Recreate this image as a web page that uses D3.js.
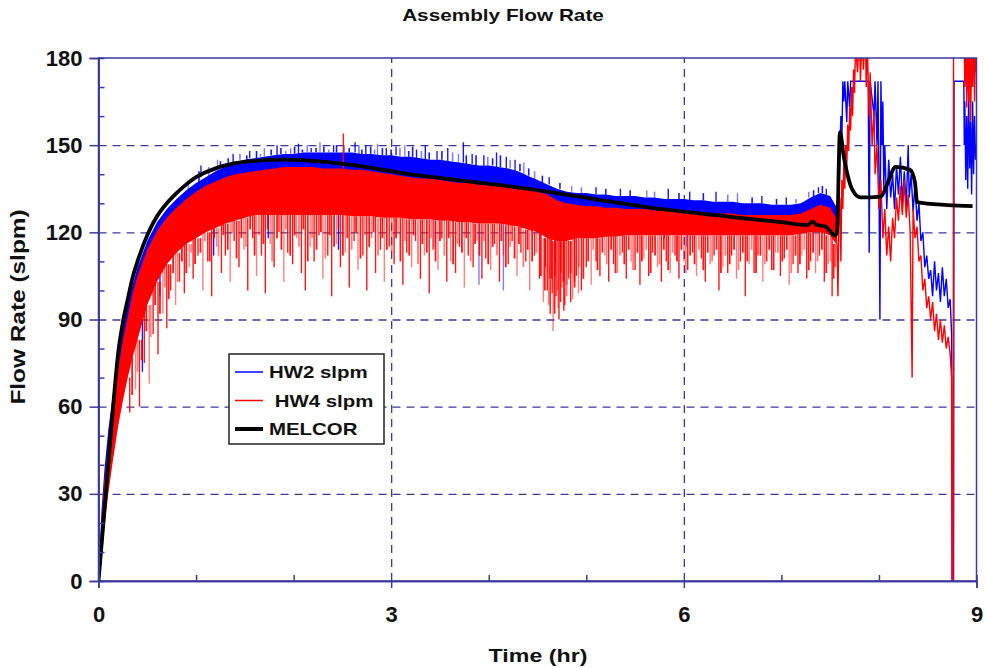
<!DOCTYPE html>
<html>
<head>
<meta charset="utf-8">
<script src="https://cdn.jsdelivr.net/npm/d3@7"></script>
<style>
  body { margin: 0; background: #fff; }
  text { font-family: "Liberation Sans", Arial, sans-serif; font-weight: bold; fill: #111; }
</style>
</head>
<body>
<div id="chart"></div>
<script>
// ---- data ----
// dense band of each test series (time in hr, slpm)
var bandT = [0, 0.03, 0.06, 0.1, 0.15, 0.2, 0.25, 0.3, 0.35, 0.4, 0.5, 0.6, 0.7, 0.8, 0.9, 1.0, 1.1, 1.2, 1.3, 1.4,
  1.5, 1.6, 1.7, 1.8, 1.9, 2.0, 2.1, 2.2, 2.3, 2.4, 2.5, 2.6, 2.7, 2.8, 2.9, 3.0, 3.1, 3.2, 3.3, 3.4,
  3.5, 3.6, 3.7, 3.8, 3.9, 4.0, 4.1, 4.2, 4.3, 4.4, 4.5, 4.6, 4.7, 4.8, 4.9, 5.0, 5.1, 5.2, 5.3, 5.4,
  5.5, 5.6, 5.7, 5.8, 5.9, 6.0, 6.1, 6.2, 6.3, 6.4, 6.5, 6.6, 6.7, 6.8, 6.9, 7.0, 7.1, 7.2, 7.3, 7.4, 7.5, 7.56];
var hw2Hi = [2, 24, 38, 52, 65, 77, 87, 95, 102, 108, 117, 123.5, 128, 131.5, 134.5, 137, 139, 141, 142.5, 144,
  145, 145.5, 146, 146.5, 147, 147, 147.5, 147.5, 147.5, 147.5, 147.5, 147.5, 147, 147, 146.5, 146.5, 146, 146, 145.5, 145,
  145, 144.5, 144, 143.5, 143, 143, 142.5, 142, 141, 139.5, 138, 136.5, 135, 134, 133.5, 133.5, 133, 133, 132.5, 132.5,
  132.5, 132, 132, 131.5, 131.5, 131.5, 131, 131, 130.5, 130.5, 130.5, 130, 130, 130, 129.5, 129.5, 129.5, 130, 132, 133.5, 132.5, 129];
var hw2Lo = [0, 12, 28, 40, 52, 64, 74, 82, 88, 94, 104, 112, 118, 122, 125, 128, 130, 132, 133, 134,
  135, 136, 136, 137, 137, 137, 137, 137, 137, 137, 136.5, 136.5, 136, 136, 135.5, 135, 134.5, 134, 134, 133.5,
  133, 133, 132.5, 132, 132, 131.5, 131, 131, 130.5, 130, 129.5, 129, 128.5, 128, 127.5, 127.5, 127, 127, 126.5, 126.5,
  126.5, 126, 126, 126, 125.5, 125.5, 125.5, 125, 125, 125, 125, 124.5, 124.5, 124.5, 124, 124, 124, 124.5, 125, 126, 125, 122];
var hw4Hi = [0, 19, 34, 47, 60, 72, 83, 91, 99, 105, 114, 120.5, 125, 128.5, 131.5, 134, 136, 137.5, 139, 140,
  140.5, 141, 141.5, 142, 142.5, 142.5, 142.5, 142.5, 142, 142, 142, 141.5, 141.5, 141, 140.5, 140, 139.5, 139, 138.5, 138.5,
  138, 137.5, 137, 137, 136.5, 136, 136, 135.5, 135, 134.5, 134, 133, 131, 130, 129.5, 129, 129, 128.5, 128.5, 128,
  128, 128, 127.5, 127.5, 127.5, 127, 127, 127, 126.5, 126.5, 126.5, 126, 126, 126, 126, 126, 126, 126.5, 128, 129.5, 128.5, 125];
var hw4Lo = [0, 6, 18, 30, 42, 53, 62, 70, 77, 83, 95, 103, 109, 113, 116, 118, 120, 121.5, 123, 124,
  125, 126, 126, 126, 126, 126, 126, 126, 126, 126, 126, 125.5, 125.5, 125.5, 125, 125, 125, 124.5, 124.5, 124.5,
  124, 124, 123.5, 123.5, 123, 123, 123, 122.5, 122, 121, 120, 118, 117, 117, 118, 118, 118, 118.5, 118.5, 119,
  119, 119, 119, 119, 119, 119, 119, 119, 119, 119, 119, 119, 119, 119, 119, 119, 119, 119.5, 120, 120, 119, 116];

// single excursions out of the band: [time, value]
var hw4Spikes = [[0.32, 58], [0.38, 66], [0.42, 60], [0.47, 75], [0.52, 68], [0.56, 85], [0.61, 78], [0.66, 92],
  [0.7, 87], [0.74, 100], [0.79, 95], [0.83, 103], [0.88, 99], [0.93, 108], [0.97, 104], [1.02, 112], [1.07, 100],
  [1.12, 110], [1.16, 98], [1.21, 115], [1.26, 106], [1.3, 112], [1.35, 103], [1.39, 117], [1.44, 108], [1.49, 114],
  [1.53, 100], [1.58, 118], [1.62, 105], [1.67, 112], [1.71, 99], [1.76, 116], [1.8, 108], [1.85, 120], [1.9, 103],
  [1.94, 113], [1.99, 109], [2.03, 118], [2.08, 106], [2.12, 100], [2.17, 115], [2.21, 110], [2.26, 119], [2.3, 104],
  [2.35, 112], [2.39, 98], [2.44, 116], [2.48, 108], [2.51, 154], [2.53, 113], [2.57, 101], [2.62, 117], [2.66, 107],
  [2.71, 112], [2.75, 100], [2.8, 118], [2.84, 106], [2.89, 114], [2.93, 103], [2.98, 115], [3.03, 109], [3.07, 120],
  [3.12, 102], [3.16, 113], [3.21, 108], [3.25, 117], [3.3, 104], [3.34, 112], [3.39, 99], [3.43, 114], [3.48, 107],
  [3.52, 118], [3.57, 103], [3.61, 110], [3.66, 106], [3.7, 115], [3.75, 101], [3.79, 112], [3.84, 108], [3.88, 117],
  [3.93, 104], [3.97, 111], [4.02, 107], [4.06, 116], [4.11, 103], [4.15, 112], [4.2, 109], [4.24, 117], [4.29, 105],
  [4.33, 113], [4.38, 110], [4.42, 100], [4.47, 112], [4.52, 104], [4.56, 96], [4.58, 108], [4.6, 100], [4.62, 104],
  [4.63, 92], [4.65, 99], [4.66, 86], [4.68, 105], [4.69, 98], [4.71, 94], [4.72, 90], [4.74, 106], [4.75, 101],
  [4.77, 93], [4.78, 95], [4.8, 102], [4.82, 104], [4.84, 96], [4.86, 97], [4.88, 103], [4.9, 105], [4.92, 99],
  [4.95, 100], [5.0, 108],
  [5.05, 102], [5.1, 110], [5.14, 105], [5.19, 112], [5.23, 103], [5.28, 109], [5.32, 106], [5.37, 113], [5.41, 104],
  [5.46, 110], [5.5, 107], [5.55, 102], [5.59, 111], [5.64, 105], [5.68, 113], [5.73, 108], [5.77, 103], [5.82, 110],
  [5.86, 106], [5.91, 112], [5.95, 104], [6.0, 110], [6.04, 107], [6.09, 113], [6.13, 105], [6.18, 111], [6.22, 103],
  [6.27, 109], [6.31, 112], [6.36, 100], [6.4, 108], [6.45, 106], [6.49, 112], [6.54, 104], [6.58, 110], [6.63, 98],
  [6.67, 109], [6.72, 106], [6.76, 112], [6.81, 103], [6.85, 110], [6.9, 107], [6.94, 113], [6.99, 105], [7.03, 111],
  [7.08, 102], [7.12, 109], [7.17, 106], [7.21, 112], [7.26, 104], [7.3, 110], [7.35, 106], [7.39, 112], [7.44, 103],
  [7.48, 109], [7.52, 98], [7.55, 108]];
// shorter, denser excursions that roughen the lower edge
var hw4Fine = [[0.345, 64], [0.4, 72], [0.445, 76], [0.49, 86], [0.535, 84], [0.58, 95], [0.63, 92], [0.68, 101],
  [0.72, 97], [0.765, 106], [0.81, 103], [0.855, 110], [0.9, 106], [0.95, 113], [0.99, 109],
  [1.045, 113], [1.09, 117], [1.14, 110], [1.185, 118], [1.23, 112], [1.28, 119], [1.325, 114], [1.37, 120],
  [1.415, 111], [1.465, 118], [1.51, 115], [1.555, 121], [1.6, 112], [1.645, 119], [1.69, 116], [1.735, 121],
  [1.78, 110], [1.83, 118], [1.875, 114], [1.92, 121], [1.965, 112], [2.01, 119], [2.055, 115], [2.1, 121],
  [2.145, 110], [2.19, 118], [2.235, 114], [2.28, 120], [2.325, 111], [2.37, 119], [2.415, 115], [2.46, 121],
  [2.505, 112], [2.55, 118], [2.595, 114], [2.64, 120], [2.685, 111], [2.73, 119], [2.775, 115], [2.82, 120],
  [2.865, 112], [2.91, 118], [2.955, 114], [3.005, 113], [3.05, 118], [3.095, 110], [3.14, 117], [3.185, 112],
  [3.23, 119], [3.275, 109], [3.32, 116], [3.365, 113], [3.41, 118], [3.455, 110], [3.5, 117], [3.545, 112],
  [3.59, 118], [3.635, 109], [3.68, 116], [3.725, 113], [3.77, 118], [3.815, 110], [3.86, 116], [3.905, 112],
  [3.95, 117], [3.995, 109], [4.04, 115], [4.085, 112], [4.13, 117], [4.175, 108], [4.22, 115], [4.265, 111],
  [4.31, 116], [4.355, 108], [4.4, 114], [4.445, 110], [4.49, 113], [4.535, 105], [4.575, 100], [4.615, 95],
  [4.645, 104], [4.675, 92], [4.705, 100], [4.735, 96], [4.765, 103], [4.8, 98], [4.84, 106], [4.88, 101],
  [4.925, 108], [4.97, 104], [5.02, 110], [5.07, 114], [5.115, 107], [5.165, 113], [5.21, 109], [5.255, 114],
  [5.3, 106], [5.345, 112], [5.39, 109], [5.435, 114], [5.48, 107], [5.525, 113], [5.57, 110], [5.615, 114],
  [5.66, 106], [5.705, 112], [5.75, 109], [5.795, 114], [5.84, 107], [5.885, 113], [5.93, 110], [5.975, 114],
  [6.02, 106], [6.065, 112], [6.11, 109], [6.155, 114], [6.2, 107], [6.245, 113], [6.29, 110], [6.335, 114],
  [6.38, 106], [6.425, 112], [6.47, 109], [6.515, 114], [6.56, 107], [6.605, 113], [6.65, 110], [6.695, 114],
  [6.74, 106], [6.785, 112], [6.83, 109], [6.875, 114], [6.92, 107], [6.965, 113], [7.01, 110], [7.055, 114],
  [7.1, 106], [7.145, 112], [7.19, 109], [7.235, 114], [7.28, 107], [7.325, 113], [7.37, 110], [7.415, 114],
  [7.46, 106], [7.505, 110], [7.535, 104]];
var hw2Spikes = [[0.45, 72], [0.55, 124], [0.63, 98], [0.75, 132], [0.92, 138], [1.05, 143], [1.18, 112], [1.22, 145],
  [1.38, 147], [1.55, 148], [1.7, 149], [1.74, 118], [1.83, 150], [1.97, 149], [2.05, 150.5], [2.18, 149], [2.27, 151],
  [2.41, 150], [2.46, 114], [2.52, 149.5], [2.63, 151], [2.74, 150], [2.86, 150.5], [2.95, 149], [3.05, 149.5],
  [3.14, 150], [3.26, 148.5], [3.35, 150], [3.45, 115], [3.47, 148], [3.58, 149], [3.69, 147], [3.74, 151], [3.83, 147],
  [3.9, 102], [3.95, 146.5], [4.08, 147.5], [4.15, 100], [4.18, 146], [4.27, 145], [4.36, 144], [4.62, 139], [4.68, 110],
  [4.85, 136], [5.1, 135.5], [5.35, 135], [5.62, 134.5], [5.8, 118], [5.84, 135], [6.03, 115], [6.06, 134], [6.33, 134],
  [6.55, 133.5], [6.8, 132.5], [7.05, 132], [7.28, 134], [7.38, 135.5], [7.46, 135]];
var hw2Fine = [[1.03, 141], [1.13, 142.5], [1.25, 144.5], [1.33, 145.5], [1.45, 147], [1.52, 146.5], [1.62, 148],
  [1.66, 147], [1.77, 148.5], [1.87, 149], [1.92, 148], [2.01, 149.5], [2.09, 148.5], [2.14, 150], [2.23, 149],
  [2.31, 149.5], [2.36, 148.5], [2.44, 150], [2.57, 149], [2.67, 150], [2.7, 148.5], [2.79, 149.5], [2.83, 148.5],
  [2.91, 149], [3.0, 148.5], [3.09, 149], [3.18, 148], [3.22, 149.5], [3.31, 148], [3.39, 147.5], [3.52, 148],
  [3.63, 147.5], [3.77, 146.5], [3.87, 146.5], [3.99, 146], [4.04, 145.5], [4.12, 146.5], [4.22, 145], [4.32, 143.5],
  [4.41, 142], [4.47, 141], [4.55, 139.5], [4.73, 137], [4.95, 135.5], [5.2, 135], [5.45, 134.5], [5.7, 134],
  [5.95, 133.5], [6.2, 133.5], [6.45, 133], [6.7, 132], [6.95, 131.5], [7.15, 131.5], [7.33, 134.5], [7.42, 136]];

// late transient, drawn as a plain trace: [time, value]
var hw2Late = [[7.56, 129], [7.58, 121], [7.6, 148], [7.61, 160], [7.62, 152], [7.63, 172], [7.64, 165], [7.65, 172],
  [7.67, 158], [7.68, 172], [7.7, 163], [7.71, 172], [7.89, 172], [7.9, 113], [7.91, 172], [7.95, 160], [7.96, 172],
  [7.98, 150], [7.99, 172], [8.0, 140], [8.01, 90], [8.02, 172], [8.03, 150], [8.04, 165], [8.05, 135], [8.06, 150],
  [8.08, 128], [8.1, 145], [8.12, 132], [8.14, 140], [8.16, 128], [8.18, 143], [8.2, 133], [8.22, 146], [8.24, 130],
  [8.26, 141], [8.28, 129], [8.3, 150], [8.31, 132], [8.33, 140], [8.35, 127], [8.37, 137], [8.39, 124], [8.41, 130],
  [8.43, 117], [8.45, 120], [8.47, 108], [8.49, 112], [8.51, 104], [8.53, 107], [8.55, 98], [8.57, 110], [8.59, 100],
  [8.61, 106], [8.63, 96], [8.65, 108], [8.67, 98], [8.69, 104], [8.71, 94], [8.73, 97], [8.745, 85], [8.75, 0],
  [8.765, 0], [8.77, 172], [8.87, 172], [8.875, 150], [8.88, 165], [8.89, 138], [8.9, 160], [8.91, 135], [8.92, 168],
  [8.93, 142], [8.94, 158], [8.95, 133], [8.96, 165], [8.97, 140], [8.98, 160], [8.99, 145], [9.0, 150]];
var hw4Late = [[7.55, 125], [7.57, 116], [7.58, 98], [7.59, 125], [7.6, 132], [7.61, 110], [7.62, 138], [7.63, 128],
  [7.64, 145], [7.65, 135], [7.66, 150], [7.67, 142], [7.68, 157], [7.69, 148], [7.7, 163], [7.71, 155], [7.72, 170],
  [7.73, 160], [7.74, 176], [7.75, 168], [7.76, 185], [7.78, 175], [7.8, 188], [7.81, 172], [7.83, 190], [7.84, 176],
  [7.86, 188], [7.87, 170], [7.88, 185], [7.9, 160], [7.91, 175], [7.93, 150], [7.95, 162], [7.96, 140], [7.98, 150],
  [8.0, 128], [8.02, 138], [8.04, 118], [8.06, 128], [8.08, 112], [8.1, 122], [8.12, 110], [8.14, 125], [8.16, 118],
  [8.18, 132], [8.2, 124], [8.22, 136], [8.24, 126], [8.26, 138], [8.28, 125], [8.3, 133], [8.32, 120], [8.34, 70],
  [8.35, 128], [8.37, 118], [8.39, 122], [8.41, 110], [8.43, 112], [8.45, 100], [8.47, 104], [8.49, 94], [8.51, 98],
  [8.53, 90], [8.55, 96], [8.57, 86], [8.59, 92], [8.61, 83], [8.63, 90], [8.65, 82], [8.67, 88], [8.69, 80],
  [8.71, 84], [8.73, 78], [8.745, 70], [8.75, 0], [8.755, 44], [8.76, 0], [8.765, 200], [8.87, 200], [8.88, 170],
  [8.89, 188], [8.9, 163], [8.91, 185], [8.92, 165], [8.93, 190], [8.94, 158], [8.95, 182], [8.96, 170], [8.97, 190],
  [8.98, 165], [8.99, 185], [9.0, 175]];

// MELCOR calculation
var melcorT = [0, 0.05, 0.1, 0.15, 0.2, 0.25, 0.3, 0.35, 0.4, 0.5, 0.6, 0.7, 0.8, 0.9, 1.0, 1.2, 1.4, 1.6, 1.9,
  2.2, 2.6, 3.1, 3.6, 4.1, 4.6, 5.1, 5.6, 6.0, 6.6, 7.0, 7.27, 7.32, 7.36, 7.45, 7.55, 7.57, 7.6, 7.64, 7.73,
  7.81, 8.02, 8.09, 8.17, 8.32, 8.37, 8.39, 8.7, 8.96];
var melcorV = [0, 20, 40, 60, 78, 89, 97, 104.5, 110, 119, 125.5, 130, 133.5, 136.5, 139, 142, 143.8, 144.6, 145,
  144.6, 143.2, 140.5, 138.3, 136.3, 134, 131.3, 128.8, 127.1, 124.9, 123.5, 122.5, 123.7, 122.6, 122, 119, 120, 154.5, 146, 134.5,
  132, 132.3, 137, 142.5, 141.5, 137, 130.4, 129.4, 129];

var xTicks = [0, 3, 6, 9];
var xMinor = [1, 2, 4, 5, 7, 8];
var yTicks = [0, 30, 60, 90, 120, 150, 180];
var yMinor = [10, 20, 40, 50, 70, 80, 100, 110, 130, 140, 160, 170];
var legendLabels = ["HW2 slpm", " HW4 slpm", "MELCOR"];
var legendColors = ["#0000ff", "#ff0000", "#000000"];

// ---- layout ----
var svgWidth = 985;
var svgHeight = 668;
var margin = { top: 58, right: 8.5, bottom: 87, left: 98.5 };
var width = svgWidth - margin.left - margin.right;
var height = svgHeight - margin.top - margin.bottom;
var axisColor = "#3a3a9c";

var svg = d3.select("#chart").append("svg")
  .attr("width", svgWidth)
  .attr("height", svgHeight);

// stretch text a bit wider, like the source export
function widen(sel, k) {
  sel.each(function() {
    var w = this.getComputedTextLength();
    d3.select(this).attr("textLength", w * k).attr("lengthAdjust", "spacingAndGlyphs");
  });
}

svg.append("defs").append("clipPath").attr("id", "plotClip")
  .append("rect").attr("width", width).attr("height", height);

var chartGroup = svg.append("g")
  .attr("transform", `translate(${margin.left}, ${margin.top})`);

var x = d3.scaleLinear().domain([0, 9]).range([0, width]);
var y = d3.scaleLinear().domain([0, 180]).range([height, 0]);

// grid
chartGroup.append("g")
  .attr("class", "grid")
  .call(d3.axisLeft(y).tickValues(yTicks.filter(d => d > 0 && d < 180)).tickSize(-width).tickFormat(""));
chartGroup.append("g")
  .attr("class", "grid")
  .attr("transform", `translate(0, ${height})`)
  .call(d3.axisBottom(x).tickValues(xTicks.filter(d => d > 0 && d < 9)).tickSize(-height).tickFormat(""));
chartGroup.selectAll(".grid .domain").remove();
chartGroup.selectAll(".grid line")
  .attr("stroke", axisColor)
  .attr("stroke-width", 1.3)
  .attr("stroke-dasharray", "8,6");

// data
var plot = chartGroup.append("g").attr("clip-path", "url(#plotClip)");

function bandArea(hi, lo) {
  return d3.area()
    .x((d, i) => x(bandT[i]))
    .y0((d, i) => y(lo[i]))
    .y1((d, i) => y(hi[i]))(bandT);
}

// each excursion is a vertical stroke from the nearest band edge out to its value
function drawSpikes(spikes, hi, lo, color, cls, w) {
  plot.selectAll("line." + cls)
    .data(spikes)
    .enter()
    .append("line")
    .attr("class", cls)
    .attr("x1", d => x(d[0]))
    .attr("x2", d => x(d[0]))
    .attr("y1", d => y(d[1]))
    .attr("y2", function(d) {
      var j = d3.bisectCenter(bandT, d[0]);
      return y(d[1] > hi[j] ? hi[j] : lo[j]);
    })
    .attr("stroke", color)
    .attr("stroke-width", w)
    .attr("opacity", (d, i) => (i % 3 === 1 ? 0.5 : 0.9));
}

var trace = d3.line().x(d => x(d[0])).y(d => y(d[1]));

// HW2 (blue)
plot.append("path").attr("d", bandArea(hw2Hi, hw2Lo)).attr("fill", "#0000ff");
drawSpikes(hw2Spikes, hw2Hi, hw2Lo, "#0000ff", "hw2spike", 1.4);
drawSpikes(hw2Fine, hw2Hi, hw2Lo, "#0000ff", "hw2fine", 1.6);
plot.append("path")
  .attr("d", trace(hw2Late))
  .attr("fill", "none").attr("stroke", "#0000ff").attr("stroke-width", 1.4);

// HW4 (red)
plot.append("path").attr("d", bandArea(hw4Hi, hw4Lo)).attr("fill", "#ff0000");
drawSpikes(hw4Spikes, hw4Hi, hw4Lo, "#ff0000", "hw4spike", 1.4);
drawSpikes(hw4Fine, hw4Hi, hw4Lo, "#ff0000", "hw4fine", 1.8);
plot.append("path")
  .attr("d", trace(hw4Late))
  .attr("fill", "none").attr("stroke", "#ff0000").attr("stroke-width", 1.4);

// MELCOR
plot.append("path")
  .attr("d", d3.line().curve(d3.curveMonotoneX).x(d => x(d[0])).y(d => y(d[1]))(melcorT.map((t, i) => [t, melcorV[i]])))
  .attr("fill", "none")
  .attr("stroke", "#000")
  .attr("stroke-width", 3.8)
  .attr("stroke-linejoin", "round");

// frame
chartGroup.append("rect")
  .attr("width", width).attr("height", height)
  .attr("fill", "none").attr("stroke", axisColor).attr("stroke-width", 1.5);

// axes
chartGroup.append("g")
  .call(d3.axisLeft(y).tickValues(yTicks).tickSize(9).tickPadding(7));
chartGroup.append("g")
  .attr("transform", `translate(0, ${height})`)
  .call(d3.axisBottom(x).tickValues(xTicks).tickSize(7).tickPadding(18));
chartGroup.append("g")
  .attr("class", "minor")
  .call(d3.axisRight(y).tickValues(yMinor).tickSize(6).tickFormat(""));
chartGroup.append("g")
  .attr("class", "minor")
  .attr("transform", `translate(0, ${height})`)
  .call(d3.axisTop(x).tickValues(xMinor).tickSize(6).tickFormat(""));

chartGroup.selectAll(".domain").attr("stroke", axisColor).attr("stroke-width", 1.5);
chartGroup.selectAll(".tick line").filter(function() { return !this.parentNode.parentNode.classList.contains("grid"); })
  .attr("stroke", axisColor).attr("stroke-width", 1.5);
chartGroup.selectAll(".tick text")
  .attr("fill", "#111")
  .style("font-size", "22px")
  .style("font-family", "'Liberation Sans', Arial, sans-serif")
  .style("font-weight", "bold");

// titles
svg.append("text")
  .attr("x", 503).attr("y", 21)
  .attr("text-anchor", "middle")
  .style("font-size", "17px")
  .text("Assembly Flow Rate")
  .call(widen, 1.22);

svg.append("text")
  .attr("x", 538).attr("y", 662)
  .attr("text-anchor", "middle")
  .style("font-size", "19px")
  .text("Time (hr)")
  .call(widen, 1.22);

svg.append("text")
  .attr("transform", `translate(25, 307) rotate(-90)`)
  .attr("text-anchor", "middle")
  .style("font-size", "20px")
  .text("Flow Rate (slpm)")
  .call(widen, 1.22);

// legend
var legend = svg.append("g").attr("transform", "translate(229, 354)");
legend.append("rect")
  .attr("width", 155).attr("height", 90)
  .attr("fill", "#fff").attr("stroke", "#222").attr("stroke-width", 1.5);
var rows = legend.selectAll("g.row")
  .data(legendLabels)
  .enter()
  .append("g")
  .attr("class", "row")
  .attr("transform", (d, i) => `translate(0, ${18 + i * 28.5})`);
rows.append("line")
  .attr("x1", 6).attr("x2", 34)
  .attr("stroke", (d, i) => legendColors[i])
  .attr("stroke-width", (d, i) => (i === 2 ? 4 : 1.5));
rows.append("text")
  .attr("x", 40).attr("y", 6)
  .style("font-size", "17px")
  .style("white-space", "pre")
  .text(d => d)
  .call(widen, 1.2);
</script>
</body>
</html>
